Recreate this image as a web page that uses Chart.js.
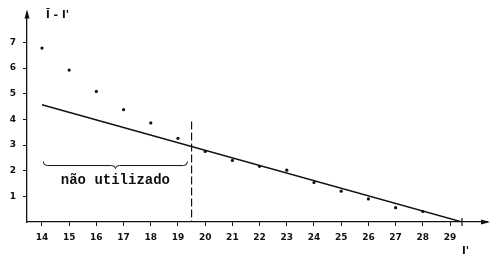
<!DOCTYPE html>
<html>
<head>
<meta charset="utf-8">
<script src="https://cdn.jsdelivr.net/npm/chart.js@4/dist/chart.umd.min.js"></script>
<style>
  html, body { margin: 0; padding: 0; background: #fff; }
</style>
</head>
<body>
<canvas id="chart" width="500" height="265"></canvas>
<script>
// --- data ---
const lValues = [14, 15, 16, 17, 18, 19, 20, 21, 22, 23, 24, 25, 26, 27, 28];
const diffValues = [6.78, 5.92, 5.09, 4.38, 3.86, 3.26, 2.75, 2.4, 2.17, 2.02, 1.54, 1.2, 0.9, 0.56, 0.41];
const fitX = [14, 29.44];
const fitY = [4.57, 0];
const cutX = 19.5;
const cutY = [3.92, 0];
const xTickValues = [14, 15, 16, 17, 18, 19, 20, 21, 22, 23, 24, 25, 26, 27, 28, 29];
const yTickValues = [1, 2, 3, 4, 5, 6, 7];
const braceFrom = 14.05;
const braceTo = 19.35;
const braceY = 2.2;
const noteText = "não utilizado";
const yTitle = "l\u0304 - l'";
const xTitle = "l'";

const ink = "#111";

// -------------------------
// arrows, brace and labels
// -------------------------
const decorations = {
    id: "decorations",
    afterDraw(chart) {
        const ctx = chart.ctx;
        const area = chart.chartArea;
        const x = chart.scales.x;
        const y = chart.scales.y;
        ctx.save();
        ctx.strokeStyle = ink;
        ctx.fillStyle = ink;
        ctx.lineWidth = 1.2;

        // arrow heads
        ctx.beginPath();
        ctx.moveTo(area.left, area.top - 3);
        ctx.lineTo(area.left - 2.5, area.top + 6);
        ctx.lineTo(area.left + 2.5, area.top + 6);
        ctx.closePath();
        ctx.fill();
        ctx.beginPath();
        ctx.moveTo(area.right + 3, area.bottom);
        ctx.lineTo(area.right - 6, area.bottom - 2.5);
        ctx.lineTo(area.right - 6, area.bottom + 2.5);
        ctx.closePath();
        ctx.fill();

        // small mark where the line meets the axis
        const ex = x.getPixelForValue(fitX[1]);
        ctx.beginPath();
        ctx.moveTo(ex, area.bottom - 4);
        ctx.lineTo(ex, area.bottom + 4);
        ctx.stroke();

        // brace
        const bx0 = x.getPixelForValue(braceFrom);
        const bx1 = x.getPixelForValue(braceTo);
        const by = y.getPixelForValue(braceY);
        const mid = (bx0 + bx1) / 2;
        ctx.lineWidth = 1;
        ctx.beginPath();
        ctx.moveTo(bx0, by - 4);
        ctx.quadraticCurveTo(bx0, by, bx0 + 4, by);
        ctx.lineTo(mid - 4, by);
        ctx.quadraticCurveTo(mid, by, mid, by + 3);
        ctx.quadraticCurveTo(mid, by, mid + 4, by);
        ctx.lineTo(bx1 - 4, by);
        ctx.quadraticCurveTo(bx1, by, bx1, by - 4);
        ctx.stroke();

        // note text
        ctx.font = "bold 14px 'Liberation Mono'";
        ctx.textAlign = "center";
        ctx.textBaseline = "middle";
        ctx.fillText(noteText, mid, by + 15);

        // axis titles
        ctx.font = "bold 11px 'DejaVu Sans'";
        ctx.textAlign = "left";
        ctx.fillText(yTitle, area.left + 19, 15);
        ctx.fillText(xTitle, area.right - 25, 251);
        ctx.restore();
    }
};

const ctx = document.getElementById("chart").getContext("2d");
new Chart(ctx, {
    type: "scatter",
    data: {
        datasets: [
            {
                label: "pontos",
                data: lValues.map((v, i) => ({ x: v, y: diffValues[i] })),
                pointRadius: 1.6,
                pointBackgroundColor: ink,
                pointBorderWidth: 0
            },
            {
                label: "recta",
                type: "line",
                data: fitX.map((v, i) => ({ x: v, y: fitY[i] })),
                borderColor: ink,
                borderWidth: 1.4,
                pointRadius: 0,
                fill: false
            },
            {
                label: "corte",
                type: "line",
                data: cutY.map(v => ({ x: cutX, y: v })),
                borderColor: ink,
                borderWidth: 1.2,
                borderDash: [8, 3],
                pointRadius: 0,
                fill: false
            }
        ]
    },
    options: {
        responsive: false,
        animation: false,
        devicePixelRatio: 1,
        layout: { padding: { top: 5, right: 13, left: 0, bottom: 0 } },
        plugins: {
            legend: { display: false },
            tooltip: { enabled: false }
        },
        scales: {
            x: {
                type: "linear",
                min: 13.45,
                max: 30.36,
                afterFit(scale) { scale.height = 43; },
                afterBuildTicks(scale) { scale.ticks = xTickValues.map(v => ({ value: v })); },
                grid: { drawOnChartArea: false, drawTicks: true, tickLength: 4, color: ink },
                border: { color: ink, width: 1.3 },
                ticks: {
                    color: ink,
                    padding: 6,
                    maxRotation: 0,
                    autoSkip: false,
                    font: { family: "DejaVu Sans", size: 9, weight: "bold" }
                }
            },
            y: {
                min: 0,
                max: 8.17,
                afterFit(scale) { scale.width = 27; },
                afterBuildTicks(scale) { scale.ticks = yTickValues.map(v => ({ value: v })); },
                grid: { drawOnChartArea: false, drawTicks: true, tickLength: 4, color: ink },
                border: { color: ink, width: 1.3 },
                ticks: {
                    color: ink,
                    padding: 7,
                    font: { family: "DejaVu Sans", size: 9, weight: "bold" }
                }
            }
        }
    },
    plugins: [decorations]
});
</script>
</body>
</html>
